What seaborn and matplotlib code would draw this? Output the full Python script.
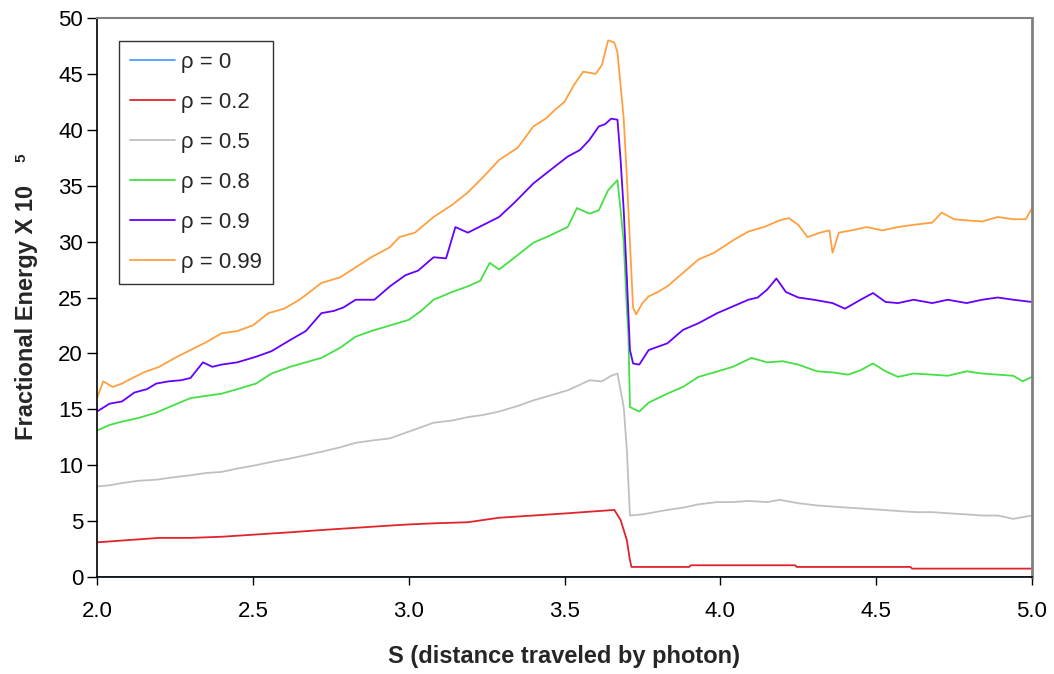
import numpy as np
import pandas as pd
import matplotlib
matplotlib.use("Agg")
import matplotlib.pyplot as plt
import seaborn as sns

labels = ["ρ = 0", "ρ = 0.2", "ρ = 0.5", "ρ = 0.8", "ρ = 0.9", "ρ = 0.99"]
colors = ["#4d9eff", "#e0242c", "#c0c0c0", "#44e044", "#6600ff", "#ffa040"]

s_rho0 = [2.0, 2.5, 3.0, 3.5, 4.0, 4.5, 5.0]
e_rho0 = [0, 0, 0, 0, 0, 0, 0]

s_rho02 = [2.00, 2.05, 2.10, 2.15, 2.20, 2.30, 2.40, 2.51, 2.62, 2.72, 2.83, 2.94, 3.00,
           3.08, 3.19, 3.29, 3.40, 3.51, 3.61, 3.66, 3.68, 3.70, 3.71, 3.715, 3.90, 3.905,
           4.24, 4.245, 4.61, 4.615, 5.00]
e_rho02 = [3.1, 3.2, 3.3, 3.4, 3.5, 3.5, 3.6, 3.8, 4.0, 4.2, 4.4, 4.6, 4.7,
           4.8, 4.9, 5.3, 5.5, 5.7, 5.9, 6.0, 5.1, 3.3, 1.5, 0.9, 0.9, 1.05,
           1.05, 0.9, 0.9, 0.75, 0.75]

s_rho05 = [2.00, 2.04, 2.08, 2.13, 2.19, 2.24, 2.30, 2.35, 2.40, 2.45, 2.51, 2.56, 2.62,
           2.67, 2.72, 2.78, 2.83, 2.88, 2.94, 3.00, 3.04, 3.08, 3.14, 3.19, 3.24, 3.29,
           3.35, 3.40, 3.45, 3.51, 3.55, 3.58, 3.62, 3.65, 3.67, 3.69, 3.70, 3.705, 3.71,
           3.75, 3.79, 3.83, 3.88, 3.93, 3.99, 4.04, 4.09, 4.15, 4.19, 4.25, 4.31, 4.36,
           4.41, 4.47, 4.52, 4.57, 4.63, 4.68, 4.73, 4.79, 4.84, 4.89, 4.94, 5.00]
e_rho05 = [8.1, 8.2, 8.4, 8.6, 8.7, 8.9, 9.1, 9.3, 9.4, 9.7, 10.0, 10.3, 10.6,
           10.9, 11.2, 11.6, 12.0, 12.2, 12.4, 13.0, 13.4, 13.8, 14.0, 14.3, 14.5, 14.8,
           15.3, 15.8, 16.2, 16.7, 17.2, 17.6, 17.5, 18.0, 18.2, 15.2, 11.4, 8.4, 5.5,
           5.6, 5.8, 6.0, 6.2, 6.5, 6.7, 6.7, 6.8, 6.7, 6.9, 6.6, 6.4, 6.3,
           6.2, 6.1, 6.0, 5.9, 5.8, 5.8, 5.7, 5.6, 5.5, 5.5, 5.2, 5.5]

s_rho08 = [2.00, 2.04, 2.08, 2.13, 2.19, 2.24, 2.30, 2.35, 2.40, 2.45, 2.51, 2.56, 2.62,
           2.67, 2.72, 2.78, 2.83, 2.88, 2.94, 3.00, 3.04, 3.08, 3.14, 3.19, 3.23, 3.26,
           3.29, 3.35, 3.40, 3.45, 3.51, 3.54, 3.58, 3.61, 3.64, 3.67, 3.68, 3.69, 3.70,
           3.705, 3.71, 3.74, 3.77, 3.80, 3.83, 3.88, 3.93, 3.98, 4.04, 4.10, 4.15, 4.20,
           4.25, 4.31, 4.36, 4.41, 4.45, 4.49, 4.53, 4.57, 4.62, 4.68, 4.73, 4.79, 4.84,
           4.89, 4.94, 4.97, 5.00]
e_rho08 = [13.1, 13.6, 13.9, 14.2, 14.7, 15.3, 16.0, 16.2, 16.4, 16.8, 17.3, 18.2, 18.8,
           19.2, 19.6, 20.5, 21.5, 22.0, 22.5, 23.0, 23.8, 24.8, 25.5, 26.0, 26.5, 28.1,
           27.5, 28.8, 29.9, 30.5, 31.3, 33.0, 32.5, 32.8, 34.6, 35.5, 32.8, 29.9, 24.0,
           21.8, 15.2, 14.8, 15.6, 16.0, 16.4, 17.0, 17.9, 18.3, 18.8, 19.6, 19.2, 19.3,
           19.0, 18.4, 18.3, 18.1, 18.5, 19.1, 18.4, 17.9, 18.2, 18.1, 18.0, 18.4, 18.2,
           18.1, 18.0, 17.5, 17.9]

s_rho09 = [2.00, 2.04, 2.08, 2.12, 2.16, 2.19, 2.23, 2.27, 2.30, 2.34, 2.37, 2.40, 2.45,
           2.51, 2.56, 2.62, 2.67, 2.72, 2.76, 2.79, 2.83, 2.89, 2.94, 2.99, 3.03, 3.08,
           3.12, 3.15, 3.19, 3.24, 3.29, 3.34, 3.40, 3.45, 3.51, 3.55, 3.58, 3.61, 3.63,
           3.65, 3.67, 3.68, 3.69, 3.70, 3.71, 3.72, 3.74, 3.77, 3.80, 3.83, 3.88, 3.93,
           3.99, 4.04, 4.09, 4.12, 4.15, 4.18, 4.21, 4.25, 4.30, 4.36, 4.40, 4.45, 4.49,
           4.53, 4.57, 4.62, 4.68, 4.73, 4.79, 4.84, 4.89, 4.94, 5.00]
e_rho09 = [14.8, 15.5, 15.7, 16.5, 16.8, 17.3, 17.5, 17.6, 17.8, 19.2, 18.8, 19.0, 19.2,
           19.7, 20.2, 21.2, 22.0, 23.6, 23.8, 24.1, 24.8, 24.8, 26.0, 27.0, 27.4, 28.6,
           28.5, 31.3, 30.8, 31.5, 32.2, 33.5, 35.2, 36.3, 37.6, 38.2, 39.1, 40.3, 40.5,
           41.0, 40.9, 37.3, 32.8, 26.8, 20.3, 19.1, 19.0, 20.3, 20.6, 20.9, 22.1, 22.7,
           23.6, 24.2, 24.8, 25.0, 25.7, 26.7, 25.5, 25.0, 24.8, 24.5, 24.0, 24.8, 25.4,
           24.6, 24.5, 24.8, 24.5, 24.8, 24.5, 24.8, 25.0, 24.8, 24.6]

s_rho099 = [2.00, 2.02, 2.05, 2.08, 2.10, 2.15, 2.20, 2.25, 2.30, 2.35, 2.40, 2.45, 2.50,
            2.55, 2.60, 2.65, 2.72, 2.78, 2.83, 2.88, 2.94, 2.97, 3.02, 3.08, 3.14, 3.19,
            3.24, 3.29, 3.35, 3.40, 3.44, 3.47, 3.50, 3.53, 3.56, 3.60, 3.62, 3.64, 3.66,
            3.67, 3.69, 3.70, 3.71, 3.72, 3.73, 3.75, 3.77, 3.80, 3.83, 3.88, 3.93, 3.98,
            4.04, 4.09, 4.14, 4.19, 4.22, 4.25, 4.28, 4.32, 4.35, 4.36, 4.38, 4.42, 4.47,
            4.52, 4.57, 4.62, 4.68, 4.71, 4.75, 4.79, 4.84, 4.89, 4.94, 4.98, 5.00]
e_rho099 = [16.0, 17.5, 17.0, 17.3, 17.6, 18.3, 18.8, 19.6, 20.3, 21.0, 21.8, 22.0, 22.5,
            23.6, 24.0, 24.8, 26.3, 26.8, 27.7, 28.6, 29.5, 30.4, 30.8, 32.2, 33.3, 34.4,
            35.8, 37.3, 38.4, 40.3, 41.0, 41.8, 42.5, 44.0, 45.2, 45.0, 45.8, 48.0, 47.8,
            46.9, 41.0, 35.8, 29.9, 24.1, 23.5, 24.5, 25.1, 25.5, 26.0, 27.2, 28.4, 29.0,
            30.1, 30.9, 31.3, 31.9, 32.1, 31.5, 30.4, 30.8, 31.0, 29.0, 30.8, 31.0, 31.3,
            31.0, 31.3, 31.5, 31.7, 32.6, 32.0, 31.9, 31.8, 32.2, 32.0, 32.0, 33.0]

xs = [s_rho0, s_rho02, s_rho05, s_rho08, s_rho09, s_rho099]
ys = [e_rho0, e_rho02, e_rho05, e_rho08, e_rho09, e_rho099]

frames = []
for lab, x, y in zip(labels, xs, ys):
    frames.append(pd.DataFrame({"S": x, "E": y, "rho": lab}))
df = pd.concat(frames, ignore_index=True)

sns.set_style("white")
plt.rcParams["font.family"] = ["Liberation Sans", "DejaVu Sans"]

fig = plt.figure(figsize=(10.54, 6.74), dpi=100)
ax = fig.add_axes([97 / 1054, 1 - 577 / 674, (1032 - 97) / 1054, (577 - 18) / 674])

sns.lineplot(data=df, x="S", y="E", hue="rho", hue_order=labels,
             palette=dict(zip(labels, colors)), estimator=None, sort=False,
             linewidth=1.3, ax=ax)

ax.set_xlim(2.0, 5.0)
ax.set_ylim(0, 50)
xt = np.arange(2.0, 5.01, 0.5)
ax.set_xticks(xt)
ax.set_xticklabels([f"{v:.1f}" for v in xt])
ax.set_yticks(np.arange(0, 51, 5))
ax.tick_params(axis="x", direction="out", length=6, width=1, colors="black",
               labelsize=16, bottom=True, pad=11)
ax.tick_params(axis="y", direction="out", length=7, width=1, colors="black",
               labelsize=16, left=True, pad=3)

for side in ["left", "bottom"]:
    ax.spines[side].set_color("black")
    ax.spines[side].set_linewidth(1.2)
ax.spines["top"].set_color("#808080")
ax.spines["top"].set_linewidth(1.5)
ax.spines["right"].set_color("#808080")
ax.spines["right"].set_linewidth(2)

ax.set_xlabel("S (distance traveled by photon)", fontsize=17, fontweight="bold", labelpad=17)
ax.set_ylabel("")
fig.text(27 / 1054, 1 - 312 / 674, "Fractional Energy X 10", fontsize=17,
         fontweight="bold", rotation=90, ha="center", va="center")
fig.text(21 / 1054, 1 - 158 / 674, "5", fontsize=11, fontweight="bold", rotation=90,
         ha="center", va="center")

handles, _ = ax.get_legend_handles_labels()
leg = ax.legend(handles, labels, loc="upper left", bbox_to_anchor=(0.0235, 0.959),
                borderaxespad=0, fontsize=16, frameon=True, fancybox=False,
                handlelength=2.05, labelspacing=0.86, handletextpad=0.28,
                borderpad=0.48)
leg.get_frame().set_edgecolor("black")
leg.get_frame().set_linewidth(1)
for line in leg.get_lines():
    line.set_linewidth(1.3)

fig.savefig("out.png", dpi=100)
